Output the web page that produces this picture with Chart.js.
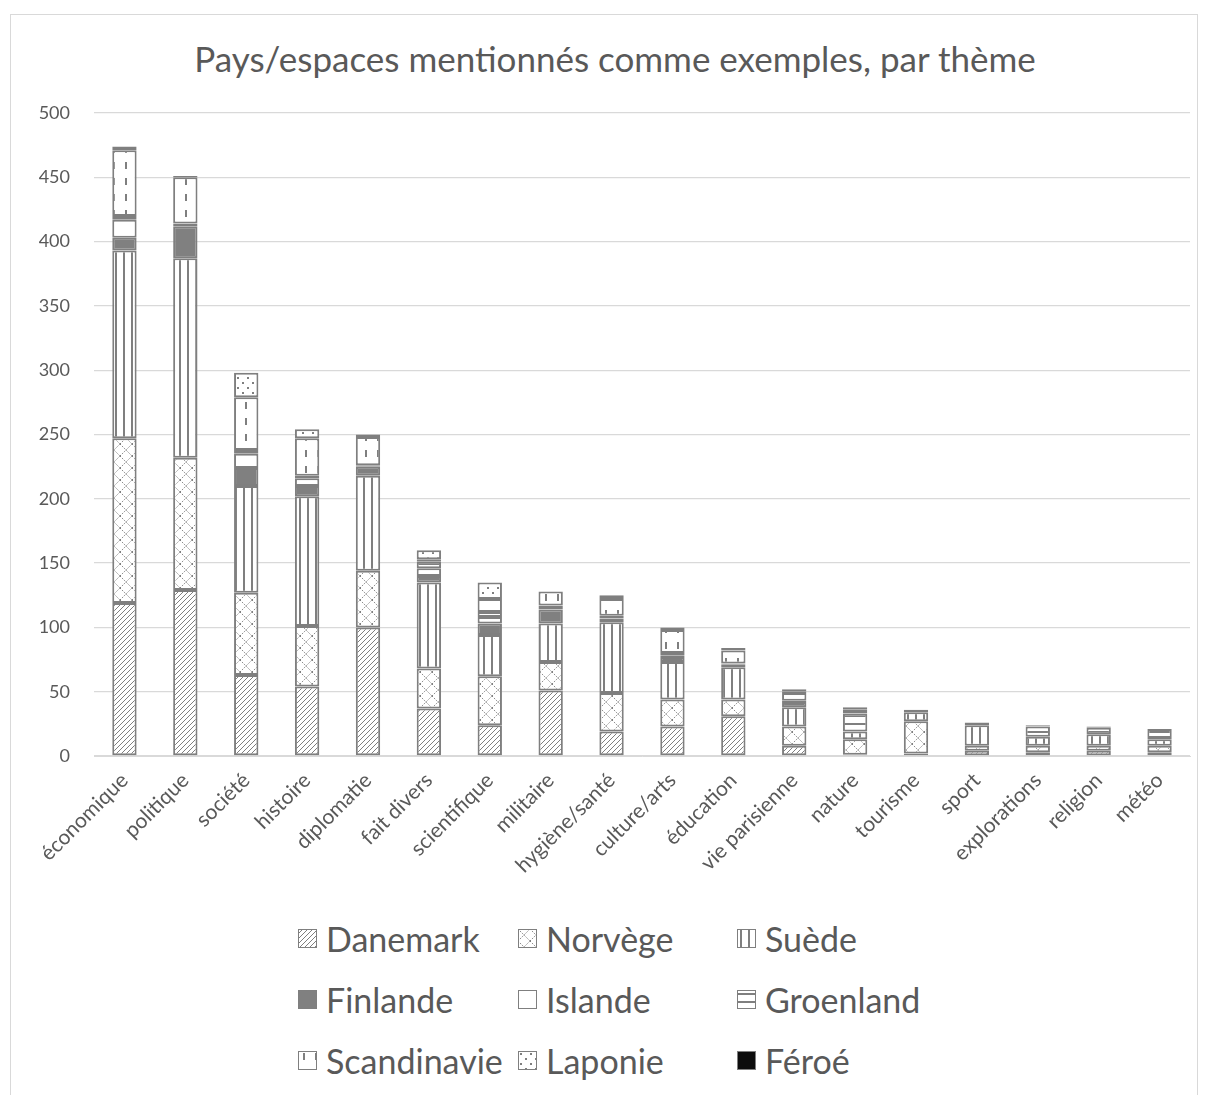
<!DOCTYPE html>
<html>
<head>
<meta charset="utf-8">
<script src="https://cdn.jsdelivr.net/npm/chart.js@4"></script>
<style>
  body { margin: 0; background: #fff; font-family: Lato, "Open Sans", sans-serif; }
  #frame { position: absolute; left: 10px; top: 14px; width: 1188px; height: 1100px; border: 1px solid #d9d9d9; box-sizing: border-box; }
  #title { position: absolute; left: 0; top: 35px; width: 1230px; height: 46px; line-height: 46px; text-align: center; color: #595959; font-size: 35px; white-space: nowrap; }
  #wrap { position: absolute; left: 0; top: 0; width: 1209px; height: 880px; }
  .item { position: absolute; display: flex; align-items: center; height: 40px; color: #595959; font-size: 34px; white-space: nowrap; }
  .item canvas { margin-right: 9px; }
</style>
</head>
<body>
<div id="frame"></div>
<div id="title">Pays/espaces mentionnés comme exemples, par thème</div>
<div id="wrap"><canvas id="chart"></canvas></div>
<div id="legend"></div>
<script>
const categories = ['économique', 'politique', 'société', 'histoire', 'diplomatie', 'fait divers', 'scientifique', 'militaire', 'hygiène/santé', 'culture/arts', 'éducation', 'vie parisienne', 'nature', 'tourisme', 'sport', 'explorations', 'religion', 'météo'];

const danemark    = [119, 129, 63, 54, 100, 37, 24, 51, 19, 23, 31, 8, 1, 2, 4, 3, 4, 3];
const norvege     = [128, 103, 64, 47, 44, 31, 38, 22, 30, 21, 13, 15, 12, 25, 4, 5, 4, 5];
const suede       = [146, 155, 83, 101, 74, 67, 32, 30, 55, 29, 25, 15, 6, 7, 16, 7, 9, 5];
const finlande    = [10, 25, 14, 8, 7, 5, 9, 11, 3, 4, 2, 4, 0, 2, 2, 0, 0, 1];
const islande     = [14, 2, 11, 6, 1, 6, 5, 1, 1, 1, 0, 1, 0, 0, 0, 0, 0, 0];
const groenland   = [3, 0, 3, 2, 0, 5, 4, 2, 1, 2, 1, 6, 14, 0, 0, 8, 5, 7];
const scandinavie = [51, 36, 41, 29, 22, 2, 10, 11, 13, 18, 10, 1, 3, 0, 0, 1, 1, 0];
const laponie     = [3, 1, 19, 7, 2, 7, 13, 0, 3, 2, 2, 2, 2, 0, 0, 0, 0, 0];
const feroe       = [0, 0, 0, 0, 0, 0, 0, 0, 0, 0, 0, 0, 0, 0, 0, 0, 0, 0];

const ink = '#7f7f7f';

// small repeating fills, like the Excel pattern fills
function pattern(kind) {
  const c = document.createElement('canvas');
  const g = c.getContext('2d');
  let w = 8, h = 8;
  if (kind === 'diag') { w = h = 5; }
  if (kind === 'diamond') { w = h = 12; }
  if (kind === 'vert') { w = 8; h = 4; }
  if (kind === 'horiz') { w = 4; h = 8; }
  if (kind === 'dash') { w = 12; h = 16; }
  if (kind === 'dots') { w = h = 10; }
  c.width = w; c.height = h;
  g.fillStyle = '#fff';
  g.fillRect(0, 0, w, h);
  g.fillStyle = ink;
  g.strokeStyle = ink;
  g.lineWidth = 1;
  if (kind === 'diag') {
    g.beginPath();
    g.moveTo(0, 5); g.lineTo(5, 0);
    g.moveTo(-1, 1); g.lineTo(1, -1);
    g.moveTo(4, 6); g.lineTo(6, 4);
    g.stroke();
  } else if (kind === 'diamond') {
    g.setLineDash([1.5, 1.5]);
    g.beginPath();
    g.moveTo(0, 0); g.lineTo(12, 12);
    g.moveTo(0, 12); g.lineTo(12, 0);
    g.stroke();
  } else if (kind === 'vert') {
    g.fillRect(3, 0, 2, 4);
  } else if (kind === 'horiz') {
    g.fillRect(0, 3, 4, 2);
  } else if (kind === 'dash') {
    g.fillRect(5, 2, 2, 7);
  } else if (kind === 'dots') {
    g.fillRect(2, 2, 2, 2);
    g.fillRect(7, 7, 2, 2);
  }
  return g.createPattern(c, 'repeat');
}

const series = [
  ['Danemark', danemark, pattern('diag')],
  ['Norvège', norvege, pattern('diamond')],
  ['Suède', suede, pattern('vert')],
  ['Finlande', finlande, '#808080'],
  ['Islande', islande, '#ffffff'],
  ['Groenland', groenland, pattern('horiz')],
  ['Scandinavie', scandinavie, pattern('dash')],
  ['Laponie', laponie, pattern('dots')],
  ['Féroé', feroe, '#0d0d0d']
];

new Chart(document.getElementById('chart'), {
  type: 'bar',
  data: {
    labels: categories,
    datasets: series.map(([label, values, fill]) => ({
      label: label,
      data: values.map(v => v === 0 ? null : v),
      backgroundColor: fill,
      borderColor: ink,
      borderWidth: 2,
      borderSkipped: false,
      barPercentage: 0.4,
      categoryPercentage: 1
    }))
  },
  options: {
    responsive: true,
    maintainAspectRatio: false,
    animation: false,
    layout: { padding: { left: 10, right: 19, top: 113, bottom: 0 } },
    plugins: {
      legend: { display: false },
      tooltip: { enabled: false },
      title: { display: false }
    },
    scales: {
      x: {
        stacked: true,
        grid: { display: false },
        border: { color: '#d9d9d9' },
        ticks: {
          color: '#595959',
          font: { family: 'Lato', size: 21 },
          maxRotation: 45,
          minRotation: 45,
          padding: 4
        },
        afterFit: s => { s.height = 124; }
      },
      y: {
        stacked: true,
        min: 0,
        max: 500,
        grid: { color: '#d9d9d9', lineWidth: 1.3, drawTicks: false },
        border: { display: false },
        ticks: {
          stepSize: 50,
          color: '#595959',
          font: { family: 'Lato', size: 18 },
          padding: 24
        },
        afterFit: s => { s.width = 84; }
      }
    }
  }
});

// legend in three columns, as in the original
const colX = [298, 518, 737];
const rowY = [938, 999, 1060];
const legend = document.getElementById('legend');
series.forEach(([label, values, fill], i) => {
  const item = document.createElement('div');
  item.className = 'item';
  item.style.left = colX[i % 3] + 'px';
  item.style.top = (rowY[Math.floor(i / 3)] - 20) + 'px';
  const sw = document.createElement('canvas');
  sw.width = 19; sw.height = 19;
  const g = sw.getContext('2d');
  g.fillStyle = fill;
  g.fillRect(0, 0, 19, 19);
  g.strokeStyle = ink;
  g.lineWidth = 1;
  g.strokeRect(0.5, 0.5, 18, 18);
  const span = document.createElement('span');
  span.textContent = label;
  item.appendChild(sw);
  item.appendChild(span);
  legend.appendChild(item);
});
</script>
</body>
</html>
